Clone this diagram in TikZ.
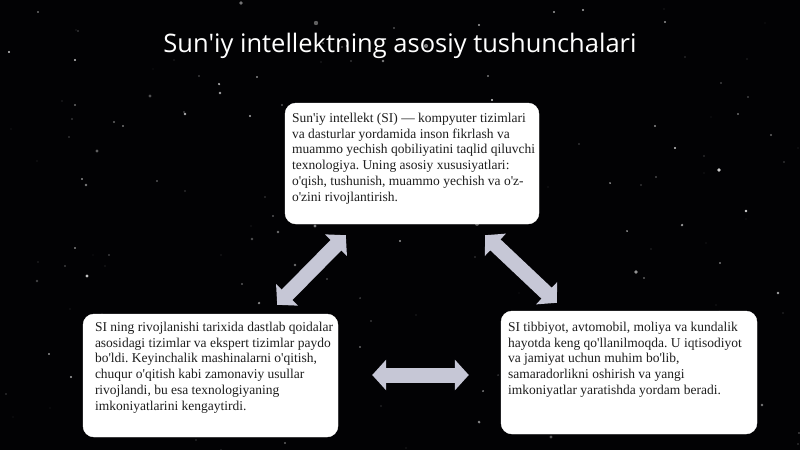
\documentclass[tikz,border=0pt]{standalone}
\usepackage{fontspec}
\setmainfont{Liberation Serif}
\newfontfamily\headfont{Open Sans}
\usetikzlibrary{arrows.meta,positioning,calc}
\definecolor{skyblack}{RGB}{2,2,4}
\definecolor{arrowgray}{RGB}{198,199,214}
\definecolor{boxtext}{RGB}{30,30,30}
\newcommand{\q}{\textquotesingle}
\frenchspacing
\tikzset{
  infobox/.style={draw=white, fill=white, rounded corners=11pt, minimum width=255pt, minimum height=122pt},
  boxtxt/.style={anchor=north west, inner sep=0pt, align=left, text=boxtext, font=\fontsize{13.5}{15.8}\selectfont},
  blockarrow/.style={arrowgray, line width=15pt, {Triangle[length=14pt,width=30pt]}-{Triangle[length=14pt,width=30pt]}}
}

\begin{document}
\begin{tikzpicture}[x=1pt,y=-1pt]
    % Night sky
    \fill[skyblack] (0,0) rectangle (800,450);
    \useasboundingbox (0,0) rectangle (800,450);
    \pgfmathsetseed{4217}
    \foreach \i in {1,...,170}{
        \pgfmathsetmacro\sx{random(0,800)}
        \pgfmathsetmacro\sy{random(0,450)}
        \pgfmathsetmacro\sr{0.4+1.9*rnd*rnd}
        \pgfmathsetmacro\so{0.25+0.6*rnd}
        \fill[white, opacity=\so] (\sx,\sy) circle[radius=\sr];
    }

    % Title
    \node[text=white, font=\headfont\fontsize{25.5}{30}\selectfont] (title) at (400,46) {Sun'iy intellektning asosiy tushunchalari};

    % Three boxes
    \node[infobox, minimum width=254pt, minimum height=121pt] (defn) at (412,163.5) {};
    \node[infobox, minimum height=123pt] (hist) at (210.5,375.5) {};
    \node[infobox, minimum width=256pt, minimum height=123pt] (uses) at (629,372.5) {};

    \node[boxtxt] (defntxt) at ([shift={(7,10)}]defn.north west) {Sun\q iy intellekt (SI) — kompyuter tizimlari\\va dasturlar yordamida inson fikrlash va\\muammo yechish qobiliyatini taqlid qiluvchi\\texnologiya. Uning asosiy xususiyatlari:\\o\q qish, tushunish, muammo yechish va o\q z-\\o\q zini rivojlantirish.};
    \node[boxtxt] (histtxt) at ([shift={(12,8)}]hist.north west) {SI ning rivojlanishi tarixida dastlab qoidalar\\asosidagi tizimlar va ekspert tizimlar paydo\\bo\q ldi. Keyinchalik mashinalarni o\q qitish,\\chuqur o\q qitish kabi zamonaviy usullar\\rivojlandi, bu esa texnologiyaning\\imkoniyatlarini kengaytirdi.};
    \node[boxtxt] (usestxt) at ([shift={(7,11)}]uses.north west) {SI tibbiyot, avtomobil, moliya va kundalik\\hayotda keng qo\q llanilmoqda. U iqtisodiyot\\va jamiyat uchun muhim bo\q lib,\\samaradorlikni oshirish va yangi\\imkoniyatlar yaratishda yordam beradi.};

    % Arrows
    \coordinate (a1) at ($(hist.north east)+(-61,-9)$);
    \coordinate (a2) at ($(defn.south west)+(61,11)$);
    \coordinate (b1) at ($(defn.south east)+(-54,11)$);
    \coordinate (b2) at ($(uses.north west)+(56,-8)$);
    \coordinate (c1) at ($(hist.east)+(34,-0.5)$);
    \coordinate (c2) at ($(uses.west)+(-32,2.5)$);
    \draw[blockarrow] (a1) -- (a2);
    \draw[blockarrow] (b1) -- (b2);
    \draw[blockarrow] (c1) -- (c2);
\end{tikzpicture}
\end{document}
